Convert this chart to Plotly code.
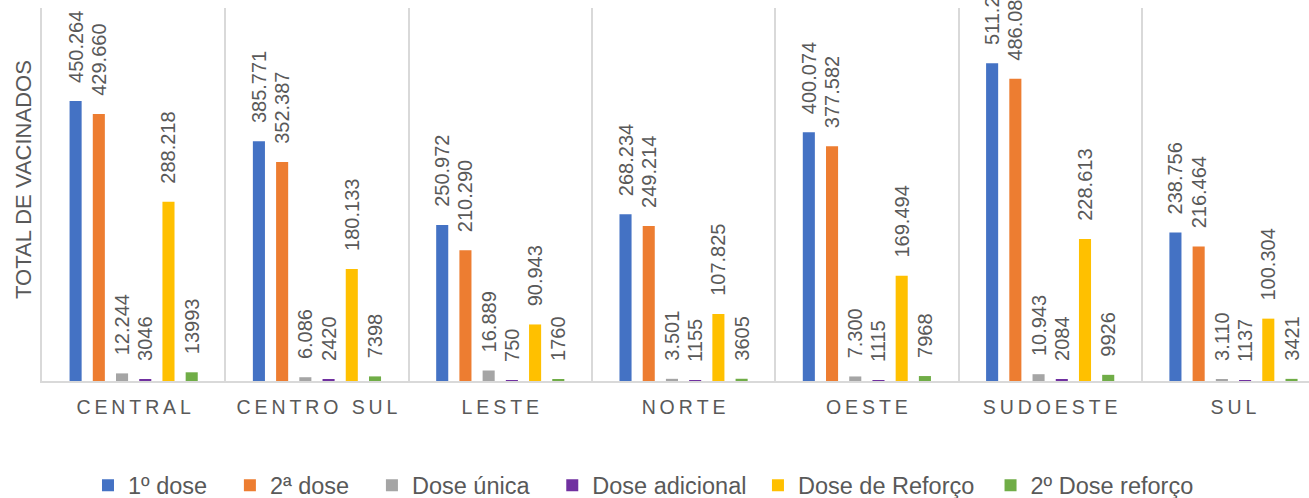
import plotly.graph_objects as go

categories = ["CENTRAL", "CENTRO SUL", "LESTE", "NORTE", "OESTE", "SUDOESTE", "SUL"]
dose1 = [450264, 385771, 250972, 268234, 400074, 511250, 238756]
dose2 = [429660, 352387, 210290, 249214, 377582, 486080, 216464]
dose_unica = [12244, 6086, 16889, 3501, 7300, 10943, 3110]
dose_adicional = [3046, 2420, 750, 1155, 1115, 2084, 1137]
dose_reforco = [288218, 180133, 90943, 107825, 169494, 228613, 100304]
dose_reforco2 = [13993, 7398, 1760, 3605, 7968, 9926, 3421]

series_names = ["1º dose", "2ª dose", "Dose única", "Dose adicional", "Dose de Reforço", "2º Dose reforço"]
series_values = [dose1, dose2, dose_unica, dose_adicional, dose_reforco, dose_reforco2]
series_colors = ["#4472C4", "#ED7D31", "#A5A5A5", "#7030A0", "#FFC000", "#70AD47"]
series_dotted = [True, True, True, False, True, False]
legend_pad = ["\u00a0\u00a0\u2009", "\u00a0\u00a0\u2009", "\u00a0\u00a0\u2009", "\u00a0", "\u00a0\u2009", ""]

TXT = "#595959"
FONT = "Liberation Sans, Arial, sans-serif"


def fmt(v, dotted):
    s = f"{v:,}" if dotted else str(v)
    return s.replace(",", ".")


tick_labels = ["\u2009".join(list(c)) for c in categories]

fig = go.Figure()
for name, vals, col, dotted, pad in zip(series_names, series_values, series_colors, series_dotted, legend_pad):
    fig.add_trace(go.Bar(
        x=categories, y=vals, name=name + pad,
        marker=dict(color=col, line=dict(width=0)),
        text=["\u00a0\u00a0\u2009" + fmt(v, dotted) for v in vals],
        textposition="outside", textangle=-90, constraintext="none",
        cliponaxis=False,
        textfont=dict(family=FONT, size=20, color=TXT),
    ))

fig.add_annotation(
    text="TOTAL DE VACINADOS", textangle=-90, showarrow=False,
    xref="paper", yref="paper", x=-0.0142, y=0.539,
    xanchor="center", yanchor="middle",
    font=dict(family=FONT, size=22, color=TXT),
)

fig.update_layout(
    width=1309, height=498,
    margin=dict(l=42, r=0, t=8, b=117, autoexpand=False),
    paper_bgcolor="white", plot_bgcolor="white",
    barmode="group", bargap=0.24, bargroupgap=0.48,
    font=dict(family=FONT, color=TXT),
    showlegend=True,
    legend=dict(orientation="h", x=0.0363, xanchor="left", y=-0.28, yanchor="middle",
                font=dict(family=FONT, size=23.5, color=TXT), traceorder="normal"),
    xaxis=dict(
        type="category", range=[-0.5, 6.412], automargin=False,
        tickmode="array", tickvals=categories, ticktext=tick_labels,
        tickson="boundaries", showgrid=True, gridcolor="#D9D9D9", gridwidth=1.5,
        ticks="", showline=True, linecolor="#D9D9D9", linewidth=1.5,
        tickfont=dict(family=FONT, size=19.5, color=TXT), ticklabelstandoff=8,
    ),
    yaxis=dict(
        range=[0, 600000], showgrid=False, zeroline=False, showticklabels=False,
        showline=True, linecolor="#D9D9D9", linewidth=1.5,
        automargin=False,
    ),
)

fig.write_html(
    "out.html",
    config={"displayModeBar": False},
    post_script="document.body.style.margin='0';document.body.style.overflow='hidden';",
)
